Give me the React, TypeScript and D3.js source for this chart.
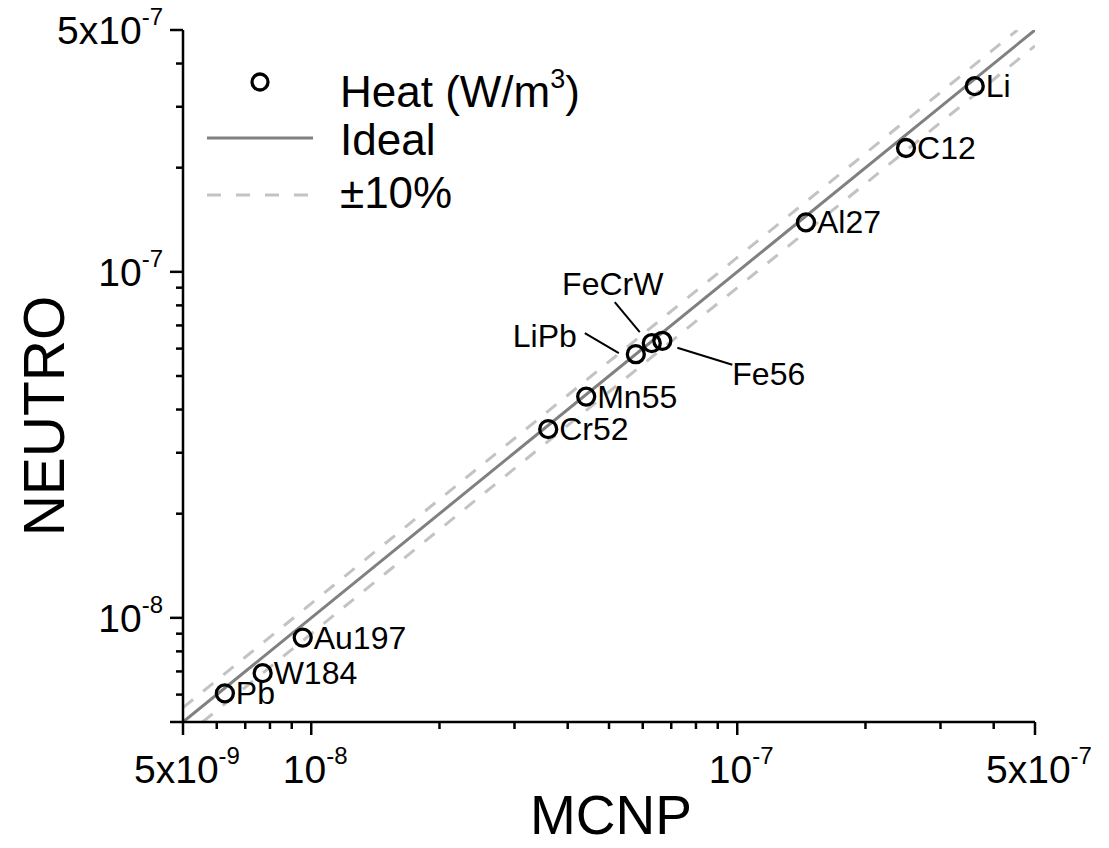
import React from "react";
import * as d3 from "d3";

const materials = ["Li", "C12", "Al27", "Fe56", "FeCrW", "LiPb", "Mn55", "Cr52", "Au197", "W184", "Pb"];
const mcnp = [3.61e-7, 2.49e-7, 1.45e-7, 6.67e-8, 6.30e-8, 5.78e-8, 4.42e-8, 3.60e-8, 9.55e-9, 7.69e-9, 6.27e-9];
const neutro = [3.44e-7, 2.28e-7, 1.39e-7, 6.32e-8, 6.22e-8, 5.78e-8, 4.36e-8, 3.51e-8, 8.77e-9, 6.92e-9, 6.05e-9];

const domain = [5e-9, 5e-7];
const majorTicks = [5e-9, 1e-8, 1e-7, 5e-7];
const majorLabels = [["5x10", "-9"], ["10", "-8"], ["10", "-7"], ["5x10", "-7"]];
const minorTicks = [6e-9, 7e-9, 8e-9, 9e-9, 2e-8, 3e-8, 4e-8, 5e-8, 6e-8, 7e-8, 8e-8, 9e-8, 2e-7, 3e-7, 4e-7];
const tolerance = 0.1;

// annotation layout for crowded labels (offsets relative to the point)
const callouts: Record<string, { from: [number, number]; to: [number, number]; text: [number, number]; anchor: string }> = {
  Fe56: { from: [15, 7], to: [70, 24], text: [70, 44], anchor: "start" },
  FeCrW: { from: [-12, -11], to: [-37, -41], text: [-39, -48], anchor: "middle" },
  LiPb: { from: [-17, -1], to: [-51, -21], text: [-59, -7], anchor: "end" },
};

const W = 1109, H = 848;
const left = 183, right = 1035, top = 30, bottom = 722;
const FONT = "'Liberation Sans', Arial, Helvetica, sans-serif";

export default function App() {
  const x = d3.scaleLog().domain(domain).range([left, right]);
  const y = d3.scaleLog().domain(domain).range([bottom, top]);
  const line = d3.line<[number, number]>().x((d) => x(d[0])).y((d) => y(d[1]));
  const ideal: [number, number][] = [[domain[0], domain[0]], [domain[1], domain[1]]];
  const upper: [number, number][] = [[domain[0], domain[0] * (1 + tolerance)], [domain[1] / (1 + tolerance), domain[1]]];
  const lower: [number, number][] = [[domain[0] / (1 - tolerance), domain[0]], [domain[1], domain[1] * (1 - tolerance)]];

  const tickLabel = (lab: string[], props: any) => (
    <text {...props} fontFamily={FONT}>
      <tspan fontSize={39}>{lab[0]}</tspan>
      <tspan fontSize={24} dy={-19}>{lab[1]}</tspan>
    </text>
  );

  return (
    <svg width={W} height={H} style={{ position: "absolute", left: 0, top: 0, background: "#fff" }}>
      <rect x={0} y={0} width={W} height={H} fill="#fff" />
      <defs>
        <clipPath id="plot">
          <rect x={left} y={top} width={right - left} height={bottom - top} />
        </clipPath>
      </defs>
      <g clipPath="url(#plot)">
        <path d={line(upper)!} stroke="#c3c3c3" strokeWidth={3} strokeDasharray="13,13" fill="none" />
        <path d={line(lower)!} stroke="#c3c3c3" strokeWidth={3} strokeDasharray="13,13" fill="none" />
        <path d={line(ideal)!} stroke="#808080" strokeWidth={3} fill="none" />
      </g>

      {/* axes */}
      <line x1={left} x2={left} y1={top} y2={bottom} stroke="#000" strokeWidth={2.5} />
      <line x1={left} x2={right} y1={bottom} y2={bottom} stroke="#000" strokeWidth={2.5} />
      {majorTicks.map((t, i) => (
        <g key={"mx" + i}>
          <line x1={x(t)} x2={x(t)} y1={bottom} y2={bottom + 13} stroke="#000" strokeWidth={2.5} />
          <line x1={left} x2={left - 13} y1={y(t)} y2={y(t)} stroke="#000" strokeWidth={2.5} />
        </g>
      ))}
      {minorTicks.map((t, i) => (
        <g key={"mn" + i}>
          <line x1={x(t)} x2={x(t)} y1={bottom} y2={bottom + 7} stroke="#000" strokeWidth={2.5} />
          <line x1={left} x2={left - 7} y1={y(t)} y2={y(t)} stroke="#000" strokeWidth={2.5} />
        </g>
      ))}
      {majorTicks.map((t, i) =>
        tickLabel(majorLabels[i], { key: "xl" + i, x: x(t) + 4, y: bottom + 61, textAnchor: "middle" })
      )}
      {majorTicks.map((t, i) =>
        i === 0 ? null : tickLabel(majorLabels[i], { key: "yl" + i, x: left - 20, y: y(t) + 14, textAnchor: "end" })
      )}

      <text x={(left + right) / 2 + 2} y={834} textAnchor="middle" fontSize={55} fontFamily={FONT}>MCNP</text>
      <text transform={`translate(64,${416}) rotate(-90)`} textAnchor="middle" fontSize={57} fontFamily={FONT}>NEUTRO</text>

      {/* points */}
      {materials.map((m, i) => {
        const cx = x(mcnp[i]);
        const cy = y(neutro[i]);
        const c = callouts[m];
        return (
          <g key={m}>
            <circle cx={cx} cy={cy} r={8.5} fill="none" stroke="#000" strokeWidth={3.3} />
            {c ? (
              <>
                <line x1={cx + c.from[0]} y1={cy + c.from[1]} x2={cx + c.to[0]} y2={cy + c.to[1]} stroke="#000" strokeWidth={2} />
                <text x={cx + c.text[0]} y={cy + c.text[1]} textAnchor={c.anchor} fontSize={32} fontFamily={FONT}>{m}</text>
              </>
            ) : (
              <text x={cx + 11} y={cy + 11} fontSize={32} fontFamily={FONT}>{m}</text>
            )}
          </g>
        );
      })}

      {/* legend */}
      <circle cx={260} cy={82} r={8} fill="none" stroke="#000" strokeWidth={3.3} />
      <text x={340} y={107} fontSize={44} fontFamily={FONT}>
        Heat (W/m<tspan fontSize={27} dy={-19}>3</tspan><tspan dy={19}>)</tspan>
      </text>
      <line x1={207} x2={313} y1={138} y2={138} stroke="#808080" strokeWidth={3} />
      <text x={340} y={155} fontSize={44} fontFamily={FONT}>Ideal</text>
      <line x1={207} x2={313} y1={195} y2={195} stroke="#c3c3c3" strokeWidth={3} strokeDasharray="14,15" />
      <text x={340} y={208} fontSize={44} fontFamily={FONT}>±10%</text>
    </svg>
  );
}
